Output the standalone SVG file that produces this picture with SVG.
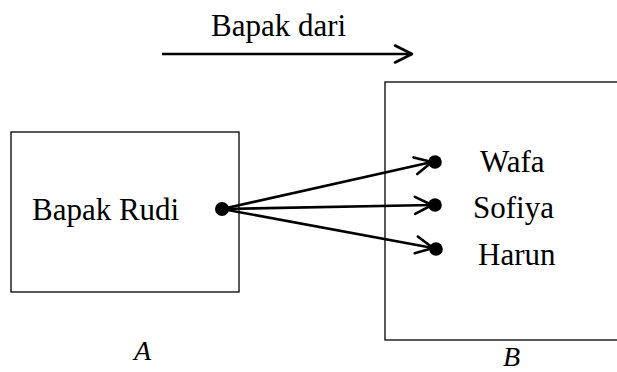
<svg xmlns="http://www.w3.org/2000/svg" width="617" height="372" viewBox="0 0 617 372">
  <style>
    .box { fill: none; stroke: #000; stroke-width: 1.3; }
    .txt { font-family: 'Liberation Serif', 'DejaVu Serif', serif; font-size: 31px; fill: #000; }
    .set { font-family: 'Liberation Serif', 'DejaVu Serif', serif; font-style: italic; font-size: 28px; fill: #000; }
    .edge { stroke: #000; stroke-width: 2.6; fill: none; }
    .dot { fill: #000; }
  </style>
  <defs>
    <marker id="chev" markerUnits="userSpaceOnUse" markerWidth="24" markerHeight="24" viewBox="-20 -12 24 24" refX="0" refY="0" orient="auto" overflow="visible">
      <path d="M-17,-8.5 L0,0 L-17,8.5" fill="none" stroke="#000" stroke-width="2.6" stroke-linecap="round" stroke-linejoin="round"/>
    </marker>
  </defs>

  <!-- direction arrow with its label -->
  <g id="relation">
    <text class="txt" font-family="Liberation Serif, serif" x="211" y="36">Bapak dari</text>
    <line class="edge" x1="162" y1="54" x2="412" y2="54" stroke-width="2.2" marker-end="url(#chev)"/>
  </g>

  <!-- set A -->
  <g id="setA">
    <rect class="box" x="11" y="132" width="228" height="160"/>
    <text class="txt" font-family="Liberation Serif, serif" x="32" y="220">Bapak Rudi</text>
    <circle class="dot" cx="222" cy="209" r="7"/>
    <text class="set" font-family="Liberation Serif, serif" x="134" y="360">A</text>
  </g>

  <!-- set B (right side runs past the frame) -->
  <g id="setB">
    <rect class="box" x="385" y="82" width="240" height="258"/>
    <text class="txt" font-family="Liberation Serif, serif" x="480" y="172">Wafa</text>
    <text class="txt" font-family="Liberation Serif, serif" x="473" y="218">Sofiya</text>
    <text class="txt" font-family="Liberation Serif, serif" x="478" y="265">Harun</text>
    <circle class="dot" cx="435" cy="162" r="6.8"/>
    <circle class="dot" cx="435" cy="205" r="6.8"/>
    <circle class="dot" cx="436" cy="249" r="6.8"/>
    <text class="set" font-family="Liberation Serif, serif" x="503" y="366">B</text>
  </g>

  <!-- mapping arrows -->
  <g id="connectors">
    <line class="edge" x1="222" y1="209" x2="432" y2="162" marker-end="url(#chev)"/>
    <line class="edge" x1="222" y1="209" x2="432" y2="205" marker-end="url(#chev)"/>
    <line class="edge" x1="222" y1="209" x2="433" y2="248" marker-end="url(#chev)"/>
  </g>
</svg>
